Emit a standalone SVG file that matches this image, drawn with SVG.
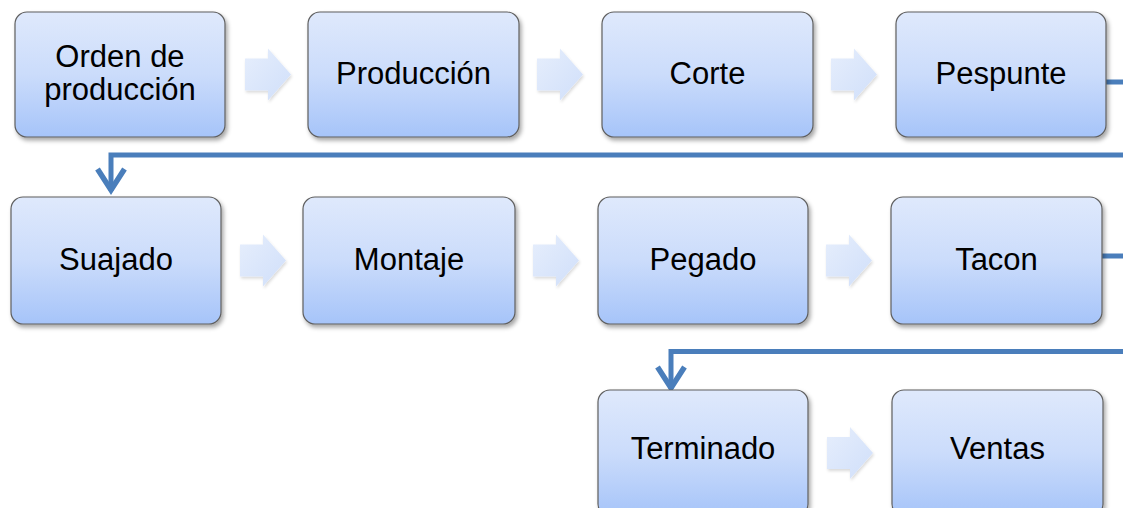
<svg xmlns="http://www.w3.org/2000/svg" width="1123" height="508" viewBox="0 0 1123 508">
<style>
.box{fill:url(#bg);stroke:#5f5f5f;stroke-width:1.2;filter:url(#sh)}
.t{font-family:"Liberation Sans",Arial,sans-serif;font-size:31px;fill:#000;text-anchor:middle}
.ba{fill:url(#ag);filter:url(#sh2)}
.con{fill:none;stroke:#4a7ebb;stroke-width:5;stroke-linejoin:miter}
</style>
<defs>
<linearGradient id="bg" x1="0" y1="0" x2="0" y2="1">
<stop offset="0" stop-color="#dfe9fc"/>
<stop offset="0.5" stop-color="#cbdcfb"/>
<stop offset="1" stop-color="#a6c4f9"/>
</linearGradient>
<linearGradient id="ag" x1="0" y1="0" x2="1" y2="1">
<stop offset="0" stop-color="#e6eefc"/>
<stop offset="1" stop-color="#d0dffa"/>
</linearGradient>
<filter id="sh" x="-10%" y="-10%" width="125%" height="130%">
<feDropShadow dx="2" dy="3" stdDeviation="2" flood-color="#000" flood-opacity="0.35"/>
</filter>
<filter id="sh2" x="-20%" y="-20%" width="150%" height="150%">
<feDropShadow dx="1" dy="2" stdDeviation="1.5" flood-color="#000" flood-opacity="0.15"/>
</filter>
<path id="arr" d="M0,-16 H23 V-26 L46,0 L23,26 V16 H0 Z"/>
<marker id="chev" markerUnits="userSpaceOnUse" markerWidth="40" markerHeight="40" viewBox="-30 -20 40 40" refX="0" refY="0" orient="auto" overflow="visible">
<path d="M-22,-13.5 L-1,0 L-22,13.5" fill="none" stroke="#4a7ebb" stroke-width="5.5" stroke-linejoin="miter"/>
</marker>
</defs>
<rect width="1123" height="508" fill="#fff"/>

<g id="connectors">
<path class="con" d="M1106,82 H1140 V155 H111 V191" marker-end="url(#chev)"/>
<path class="con" d="M1102,256 H1140 V351.5 H671 V389" marker-end="url(#chev)"/>
</g>

<g id="block-arrows">
<use href="#arr" class="ba" transform="translate(245,74.5)"/>
<use href="#arr" class="ba" transform="translate(537,74.5)"/>
<use href="#arr" class="ba" transform="translate(831,74.5)"/>
<use href="#arr" class="ba" transform="translate(240,260.5)"/>
<use href="#arr" class="ba" transform="translate(533,260.5)"/>
<use href="#arr" class="ba" transform="translate(826,260.5)"/>
<use href="#arr" class="ba" transform="translate(827,453)"/>
</g>

<g id="n1"><rect class="box" x="15" y="12" width="210" height="125" rx="12"/><text class="t" x="120" y="67">Orden de</text><text class="t" x="120" y="100">producción</text></g>
<g id="n2"><rect class="box" x="308" y="12" width="211" height="125" rx="12"/><text class="t" x="413.5" y="84">Producción</text></g>
<g id="n3"><rect class="box" x="602" y="12" width="211" height="125" rx="12"/><text class="t" x="707.5" y="84">Corte</text></g>
<g id="n4"><rect class="box" x="896" y="12" width="210" height="125" rx="12"/><text class="t" x="1001" y="84">Pespunte</text></g>

<g id="n5"><rect class="box" x="11" y="197" width="210" height="127" rx="12"/><text class="t" x="116" y="270">Suajado</text></g>
<g id="n6"><rect class="box" x="303" y="197" width="212" height="127" rx="12"/><text class="t" x="409" y="270">Montaje</text></g>
<g id="n7"><rect class="box" x="598" y="197" width="210" height="127" rx="12"/><text class="t" x="703" y="270">Pegado</text></g>
<g id="n8"><rect class="box" x="891" y="197" width="211" height="127" rx="12"/><text class="t" x="996.5" y="270">Tacon</text></g>

<g id="n9"><rect class="box" x="598" y="390" width="210" height="126" rx="12"/><text class="t" x="703" y="459">Terminado</text></g>
<g id="n10"><rect class="box" x="892" y="390" width="211" height="126" rx="12"/><text class="t" x="997.5" y="459">Ventas</text></g>
</svg>
